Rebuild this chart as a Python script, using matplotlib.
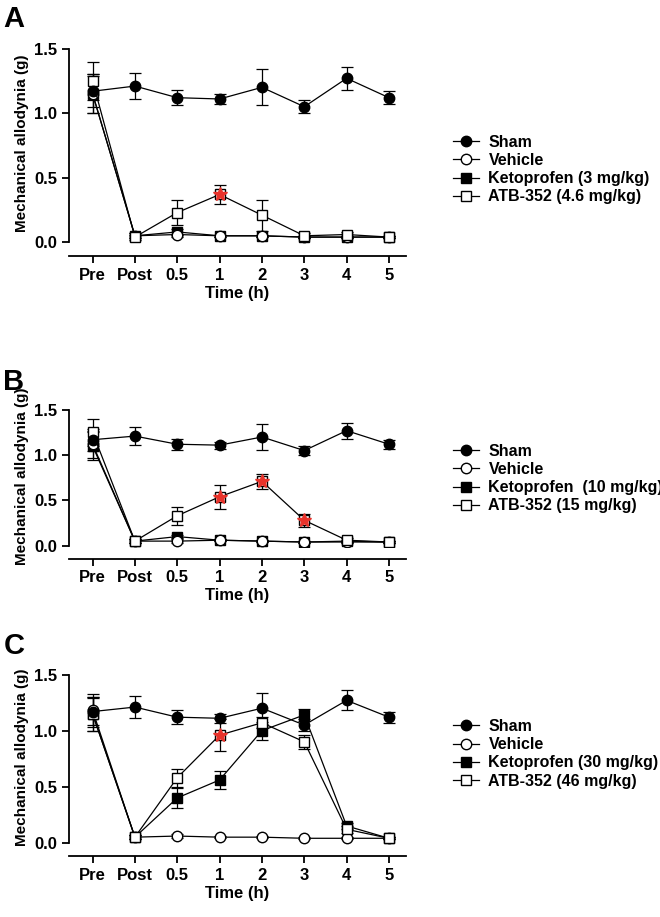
import matplotlib
matplotlib.use("Agg")
import matplotlib.pyplot as plt
from matplotlib.lines import Line2D

plt.rcParams['font.family'] = ['Liberation Sans', 'DejaVu Sans']
plt.rcParams['font.weight'] = 'bold'

time_labels = ["Pre", "Post", "0.5", "1", "2", "3", "4", "5"]
x = list(range(len(time_labels)))

sham = [1.17, 1.21, 1.12, 1.11, 1.20, 1.05, 1.27, 1.12]
sham_err = [0.12, 0.10, 0.06, 0.04, 0.14, 0.05, 0.09, 0.05]

veh_A = [1.15, 0.05, 0.06, 0.05, 0.05, 0.04, 0.04, 0.04]
keto_A = [1.15, 0.05, 0.08, 0.05, 0.05, 0.04, 0.04, 0.04]
atb_A = [1.25, 0.04, 0.23, 0.37, 0.21, 0.05, 0.06, 0.04]
atb_A_err = [0.15, 0.02, 0.10, 0.07, 0.12, 0.02, 0.02, 0.01]
star_A = [3]

veh_B = [1.12, 0.05, 0.05, 0.06, 0.05, 0.04, 0.04, 0.04]
keto_B = [1.10, 0.05, 0.10, 0.06, 0.05, 0.04, 0.05, 0.04]
atb_B = [1.25, 0.05, 0.33, 0.54, 0.71, 0.28, 0.06, 0.04]
atb_B_err = [0.15, 0.02, 0.10, 0.13, 0.08, 0.07, 0.02, 0.01]
star_B = [3, 4, 5]

veh_C = [1.18, 0.05, 0.06, 0.05, 0.05, 0.04, 0.04, 0.04]
keto_C = [1.15, 0.05, 0.40, 0.56, 1.00, 1.14, 0.15, 0.04]
keto_C_err = [0.15, 0.02, 0.09, 0.08, 0.08, 0.05, 0.03, 0.01]
atb_C = [1.15, 0.05, 0.58, 0.96, 1.07, 0.90, 0.12, 0.04]
atb_C_err = [0.15, 0.02, 0.08, 0.14, 0.05, 0.06, 0.03, 0.01]
star_C = [3]

small_err = [0.15, 0.02, 0.02, 0.01, 0.01, 0.01, 0.01, 0.01]

panels = [
    ("A", [0.105, 0.733, 0.51, 0.221], veh_A, small_err, keto_A, small_err, atb_A, atb_A_err, star_A,
     ["Sham", "Vehicle", "Ketoprofen (3 mg/kg)", "ATB-352 (4.6 mg/kg)"], 0.815),
    ("B", [0.105, 0.403, 0.51, 0.155], veh_B, small_err, keto_B, small_err, atb_B, atb_B_err, star_B,
     ["Sham", "Vehicle", "Ketoprofen  (10 mg/kg)", "ATB-352 (15 mg/kg)"], 0.478),
    ("C", [0.105, 0.0785, 0.51, 0.192], veh_C, small_err, keto_C, keto_C_err, atb_C, atb_C_err, star_C,
     ["Sham", "Vehicle", "Ketoprofen (30 mg/kg)", "ATB-352 (46 mg/kg)"], 0.178),
]

fig = plt.figure(figsize=(6.6, 9.17), dpi=100)
for letter, rect, veh, veh_e, keto, keto_e, atb, atb_e, stars, labels, ly in panels:
    ax = fig.add_axes(rect)
    kw = dict(color='black', lw=0.9, ms=7.5, capsize=4, elinewidth=0.9, capthick=0.9, mec='black')
    ax.errorbar(x, keto, yerr=keto_e, fmt='-s', mfc='black', **kw)
    ax.errorbar(x, veh, yerr=veh_e, fmt='-o', mfc='white', **kw)
    ax.errorbar(x, atb, yerr=atb_e, fmt='-s', mfc='white', **kw)
    ax.errorbar(x, sham, yerr=sham_err, fmt='-o', mfc='black', **kw)
    for i in stars:
        ax.plot(x[i], atb[i], marker='*', color='#e8322a', ms=10, ls='none', zorder=5)
    ax.set_xlim(-0.55, 7.4)
    ax.set_ylim(-0.02, 1.55)
    ax.set_yticks([0, 0.5, 1.0, 1.5])
    ax.set_yticklabels(["0.0", "0.5", "1.0", "1.5"])
    ax.set_xticks(x)
    ax.set_xticklabels(time_labels)
    for s in ['top', 'right']:
        ax.spines[s].set_visible(False)
    ax.spines['left'].set_bounds(0, 1.5)
    ax.spines['left'].set_linewidth(1.3)
    ax.spines['bottom'].set_linewidth(1.3)
    ax.spines['bottom'].set_position(('outward', 8))
    ax.tick_params(labelsize=12, width=1.3, length=5)
    for t in ax.get_xticklabels() + ax.get_yticklabels():
        t.set_fontweight('bold')
    ax.set_ylabel("Mechanical allodynia (g)", fontsize=11, fontweight='bold')
    ax.set_xlabel("Time (h)", fontsize=12, fontweight='bold', labelpad=2)
    fig.text(0.005, rect[1] + rect[3] + 0.01, letter, fontsize=21, fontweight='bold', va='bottom')
    handles = [
        Line2D([], [], color='black', lw=0.9, marker='o', mfc='black', mec='black', ms=7.5),
        Line2D([], [], color='black', lw=0.9, marker='o', mfc='white', mec='black', ms=7.5),
        Line2D([], [], color='black', lw=0.9, marker='s', mfc='black', mec='black', ms=7.5),
        Line2D([], [], color='black', lw=0.9, marker='s', mfc='white', mec='black', ms=7.5),
    ]
    fig.legend(handles, labels, loc='center left', bbox_to_anchor=(0.665, ly), frameon=False,
               prop={'weight': 'bold', 'size': 11.5}, handlelength=1.6, labelspacing=0.2, handletextpad=0.6)

fig.savefig("out.png", dpi=100)
